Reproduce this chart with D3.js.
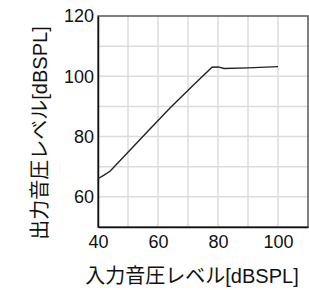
<!DOCTYPE html>
<html>
<head>
<meta charset="utf-8">
<script src="https://cdn.jsdelivr.net/npm/d3@7"></script>
<style>
body { margin: 0; background: #fff; }
text { font-family: "Liberation Sans", Arial, "Noto Sans CJK JP", sans-serif; }
</style>
</head>
<body>
<div id="chart"></div>
<script>
// input level vs output level
var inputLevel  = [40, 42, 44, 50, 57, 64, 72, 78, 80, 82, 90, 100];
var outputLevel = [66, 67.2, 68.5, 74.8, 82.2, 89.5, 97.3, 103, 103.1, 102.6, 102.8, 103.2];
var xTicks = [40, 60, 80, 100];
var yTicks = [60, 80, 100, 120];
var xLabel = "入力音圧レベル[dBSPL]";
var yLabel = "出力音圧レベル[dBSPL]";

var margin = {top: 16, right: 1, bottom: 63, left: 98},
    width = 309 - margin.left - margin.right,
    height = 290 - margin.top - margin.bottom;

var svg = d3.select("#chart")
  .append("svg")
  .attr("width", 309)
  .attr("height", 290)
  .append("g")
  .attr("transform", "translate(" + margin.left + "," + margin.top + ")");

var x = d3.scaleLinear().domain([40, 110]).range([0, width]);
var y = d3.scaleLinear().domain([50, 120]).range([height, 0]);

// grid every 10
svg.append("g")
  .selectAll("line")
  .data(d3.range(50, 110, 10))
  .join("line")
  .attr("x1", d => x(d)).attr("x2", d => x(d))
  .attr("y1", 0).attr("y2", height)
  .attr("stroke", "#dcdcdc").attr("stroke-width", 1.5);

svg.append("g")
  .selectAll("line")
  .data(d3.range(60, 120, 10))
  .join("line")
  .attr("y1", d => y(d)).attr("y2", d => y(d))
  .attr("x1", 0).attr("x2", width)
  .attr("stroke", "#dcdcdc").attr("stroke-width", 1.5);

// frame
svg.append("rect")
  .attr("x", 0).attr("y", 0)
  .attr("width", width).attr("height", height)
  .attr("fill", "none")
  .attr("stroke", "#555").attr("stroke-width", 1.5);

var xAxis = svg.append("g")
  .attr("transform", "translate(0," + height + ")")
  .call(d3.axisBottom(x).tickValues(xTicks).tickSize(0).tickPadding(8));
var yAxis = svg.append("g")
  .call(d3.axisLeft(y).tickValues(yTicks).tickSize(0).tickPadding(4));

[xAxis, yAxis].forEach(function(a){
  a.select(".domain").attr("stroke", "#111").attr("stroke-width", 1.5);
  a.selectAll("text")
    .attr("fill", "#111")
    .style("font-size", "18px");
});

// curve
var line = d3.line()
  .x((d, i) => x(inputLevel[i]))
  .y(d => y(d));

svg.append("path")
  .datum(outputLevel)
  .attr("d", line)
  .attr("fill", "none")
  .attr("stroke", "#222")
  .attr("stroke-width", 1.4);

// axis titles
svg.append("text")
  .attr("x", 94)
  .attr("y", 260)
  .attr("text-anchor", "middle")
  .attr("dominant-baseline", "central")
  .attr("fill", "#111")
  .style("font-size", "20px")
  .text(xLabel);

svg.append("text")
  .attr("transform", "translate(-58," + 117 + ") rotate(-90)")
  .attr("text-anchor", "middle")
  .attr("dominant-baseline", "central")
  .attr("fill", "#111")
  .style("font-size", "20px")
  .text(yLabel);
</script>
</body>
</html>
